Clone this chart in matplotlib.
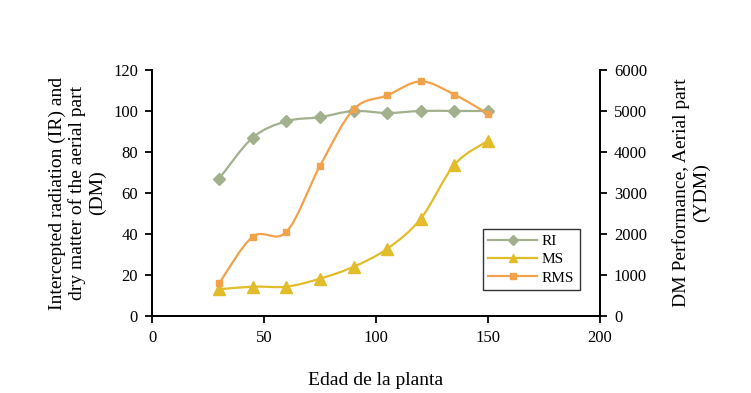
import matplotlib.pyplot as plt
import numpy as np
from matplotlib.path import Path
from matplotlib.patches import PathPatch
from matplotlib.lines import Line2D

plt.rcParams['font.family'] = ['Liberation Serif', 'DejaVu Serif']

edad = [30, 45, 60, 75, 90, 105, 120, 135, 150]
ri = [67, 87, 95, 97, 100, 99, 100, 100, 100]
ms = [13, 14.3, 14.3, 18.2, 24, 32.8, 47.5, 73.8, 85.5]
rms = [800, 1935, 2050, 3660, 5040, 5380, 5720, 5400, 4930]

c_ri = '#a2b08e'
c_ms = '#e2bc2a'
c_rms = '#f2a24a'


def smooth_path(x, y):
    # Excel style smoothed line: cubic bezier segments through the points
    pts = np.column_stack([x, y]).astype(float)
    n = len(pts)
    verts = [pts[0]]
    codes = [Path.MOVETO]
    for i in range(n - 1):
        p0 = pts[i - 1] if i > 0 else pts[i]
        p1 = pts[i]
        p2 = pts[i + 1]
        p3 = pts[i + 2] if i + 2 < n else pts[i + 1]
        verts += [p1 + (p2 - p0) / 6, p2 - (p3 - p1) / 6, p2]
        codes += [Path.CURVE4] * 3
    return Path(verts, codes)


def draw(ax, x, y, color, marker, ms_size):
    ax.add_patch(PathPatch(smooth_path(x, y), facecolor='none', edgecolor=color, lw=1.6, zorder=2))
    ax.plot(x, y, linestyle='none', marker=marker, color=color, markersize=ms_size, zorder=3)


fig = plt.figure(figsize=(7.51, 3.93), dpi=100)
ax = fig.add_axes([0.2024, 0.196, 0.5966, 0.626])
ax2 = ax.twinx()

draw(ax, edad, ri, c_ri, 'D', 6)
draw(ax, edad, ms, c_ms, '^', 8)
draw(ax2, edad, rms, c_rms, 's', 5)

ax.set_xlim(0, 200)
ax.set_ylim(0, 120)
ax2.set_ylim(0, 6000)
ax.set_xticks([0, 50, 100, 150, 200])
ax.set_yticks(range(0, 121, 20))
ax2.set_yticks(range(0, 6001, 1000))

for a in (ax, ax2):
    a.spines['top'].set_visible(False)
    for s in a.spines.values():
        s.set_linewidth(1.3)
    a.tick_params(labelsize=12, width=1.3, length=5, direction='out', pad=5)

ax.set_xlabel('Edad de la planta', fontsize=14, labelpad=19)
ax.set_ylabel('Intercepted radiation (IR) and\ndry matter of the aerial part\n(DM)',
              fontsize=14, labelpad=5)
ax2.set_ylabel('DM Performance, Aerial part\n(YDM)', fontsize=14, labelpad=18)

handles = [
    Line2D([], [], color=c_ri, marker='D', markersize=5, lw=1.6),
    Line2D([], [], color=c_ms, marker='^', markersize=6, lw=1.6),
    Line2D([], [], color=c_rms, marker='s', markersize=4, lw=1.6),
]
leg = ax2.legend(handles, ['RI', 'MS', 'RMS'], loc='lower left',
                 bbox_to_anchor=(0.739, 0.106), borderaxespad=0, fontsize=11,
                 frameon=True, fancybox=False, edgecolor='black',
                 handlelength=3.2, borderpad=0.35, labelspacing=0.3,
                 handletextpad=0.3)
leg.get_frame().set_linewidth(1.0)

fig.savefig('out.png', dpi=100)
